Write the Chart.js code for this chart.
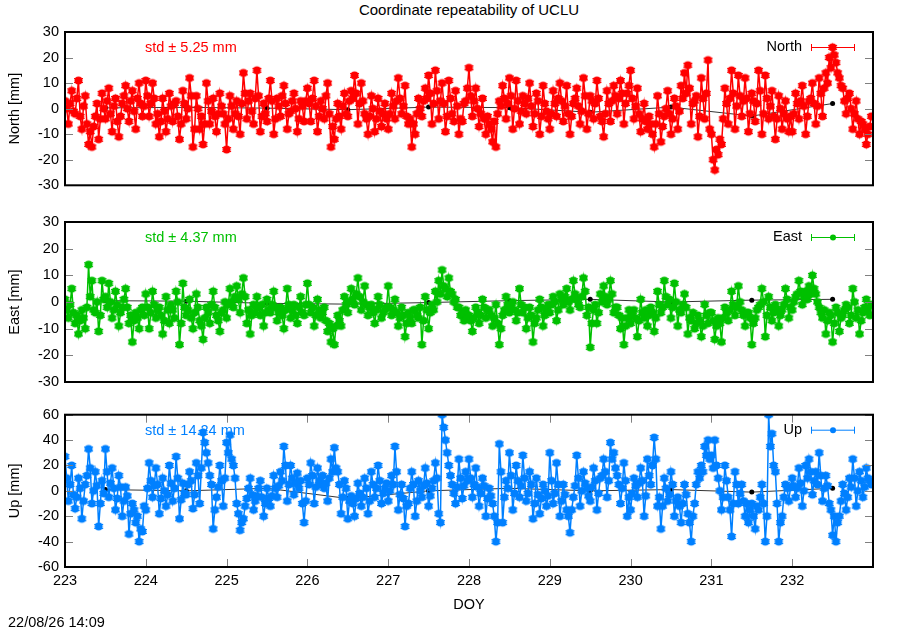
<!DOCTYPE html>
<html>
<head>
<meta charset="utf-8">
<title>Coordinate repeatability of UCLU</title>
<script src="https://cdn.jsdelivr.net/npm/chart.js@4.4.0/dist/chart.umd.min.js"></script>
<style>
  html, body { margin: 0; padding: 0; background: #fff; }
  #page { position: relative; width: 900px; height: 630px; font-family: "Liberation Sans", Arial, sans-serif; font-size: 14.5px; color: #000; }
  .panel { position: absolute; left: 0; width: 900px; }
  .txt { position: absolute; white-space: nowrap; line-height: 16px; }
</style>
</head>
<body>
<div id="page">
  <div class="txt" style="left:319px;width:300px;top:2px;text-align:center;font-size:15px">Coordinate repeatability of UCLU</div>
  <div class="panel" style="top:0;height:200px"><canvas id="northChart"></canvas></div>
  <div class="panel" style="top:200px;height:200px"><canvas id="eastChart"></canvas></div>
  <div class="panel" style="top:400px;height:230px"><canvas id="upChart"></canvas></div>
  <div class="txt" style="left:8px;top:614px">22/08/26 14:09</div>
</div>
<script>
// half-hourly solutions, DOY 223 .. 232 (48 per day, one row per day)
const firstDoy = 223;
const epochsPerDay = 48;

const northValues = [
  3,0,-6,2,7,-1,-2,4,11,-3,-8,1,5,-6,-14,-9,-15,-7,-3,2,-12,-4,6,0,-4,3,8,-2,-9,1,4,-5,-11,-3,2,5,9,0,-5,3,7,-1,-8,4,10,2,-3,1,
  11,5,-3,2,10,4,-6,-2,-11,-5,4,-1,-9,-4,6,1,-5,2,3,-3,-12,-6,7,2,-4,0,12,5,-15,-8,5,0,-8,-3,-14,-6,10,3,-6,-1,4,-3,-9,-2,6,1,-2,-6,
  -16,-4,5,1,-8,-2,3,-3,-10,2,14,6,-4,3,6,-1,-6,4,15,5,-9,-3,2,-2,-5,4,11,3,-10,-4,4,1,-3,5,9,2,-8,-2,-1,3,6,0,-9,-4,3,1,-5,3,
  8,2,-5,4,11,1,-9,-3,3,0,-4,5,10,-2,-15,-7,-12,-4,2,-3,-8,1,6,-2,-3,3,7,4,13,6,-6,2,10,3,-2,-4,-10,-3,5,0,-9,-4,4,-1,-7,-2,2,-4,
  -8,-2,6,1,-4,3,12,4,-2,1,9,-3,-6,-4,-15,-6,-10,-2,4,0,-3,3,8,4,13,6,-6,2,15,7,-4,3,10,2,-9,-3,11,4,-2,-5,7,1,-10,-4,-5,2,3,8,
  16,5,-3,3,8,0,-7,-2,4,-4,-10,-3,-6,-8,-13,-5,-15,-2,3,1,9,4,-4,2,12,5,-8,0,11,3,-6,-1,5,2,-2,4,10,1,-7,-2,6,3,-10,-3,9,2,-1,-4,
  -8,-2,7,2,-3,4,10,3,-5,1,9,-2,-10,-3,2,4,8,1,-6,-1,12,5,-8,-2,5,3,-4,2,11,4,-3,-5,-11,-2,7,2,-5,3,9,5,-2,4,11,6,-6,2,6,9,
  15,4,-4,1,8,-2,-9,-4,2,-5,-8,-3,-6,-10,-15,-6,5,-2,-13,-7,-3,0,7,-2,-10,-4,4,1,-8,-1,9,4,14,6,17,8,-6,2,3,5,-11,-3,12,4,-4,6,19,-8,
  -10,-20,-24,-16,-18,-12,-14,-4,8,2,-6,4,15,6,-8,1,13,5,-3,3,12,4,-9,-2,6,3,-5,2,15,7,-10,-2,13,4,-4,1,7,-3,-12,-4,5,0,-8,-2,3,-4,-9,-3,
  -9,-2,6,2,-4,3,9,1,-10,-3,3,4,10,2,-6,1,12,6,-3,8,14,10,20,16,24,21,18,14,12,9,8,3,-2,4,6,0,-8,-2,3,-4,-10,-5,-6,-8,-14,-10,-7,-3
];

const eastValues = [
  1,-3,-6,-1,5,-4,-8,-5,-12,-7,-3,-6,-10,-2,14,2,8,-3,-4,0,-11,-5,8,1,2,-2,7,0,-6,-3,4,-1,-9,-4,-2,1,5,-2,-8,-5,-15,-7,-4,-6,-10,-3,-2,-5,
  3,-2,-10,-4,4,-1,-6,-3,-2,-5,-12,-7,2,-3,-8,-1,-3,-6,4,0,-16,-8,7,-2,-5,-3,1,-6,-10,-4,3,-2,-7,-9,-14,-6,-2,-4,-8,-1,4,-2,-5,-7,-11,-4,-3,0,
  -6,-1,5,0,-2,2,6,1,-4,3,9,2,-8,-3,-12,-5,-1,-4,2,-2,-5,-1,-9,-4,1,-3,-4,-1,4,-2,-7,-4,-2,-5,-10,-3,5,-1,-6,-3,-1,-5,-8,-2,2,-4,-5,-1,
  7,-1,-4,-2,-9,-5,1,-3,-6,-4,-2,-7,-11,-8,-15,-10,-16,-9,-5,-7,-9,-3,2,-1,-4,0,5,1,-1,3,9,2,-3,0,6,-1,-5,-2,-1,-4,-8,-3,2,-1,-6,-4,-3,-2,
  6,-2,-5,-3,1,-4,-9,-6,-2,-5,-13,-8,-4,-6,-8,-3,-3,-5,-6,-2,-16,-7,2,-3,-10,-4,-1,-3,4,0,8,3,12,6,5,2,9,4,3,0,1,-2,-2,-5,-4,-7,-3,-6,
  -5,-7,-11,-6,-2,-4,-8,-5,1,-2,-6,-3,-3,-5,-9,-6,-1,-8,-16,-10,-5,-3,2,-1,-4,-2,0,-3,-7,-4,5,-1,-4,-2,-10,-6,-2,-5,-15,-8,-6,-3,1,-2,-9,-5,-3,-1,
  -4,-1,2,0,-7,-3,3,1,-1,2,5,0,-3,1,8,3,1,-1,-2,2,9,4,-5,-2,-17,-8,-3,-1,-8,-4,3,0,6,2,-1,1,8,3,-4,-2,-2,-5,-10,-6,-16,-9,-6,-3,
  -8,-5,-3,-6,-13,-7,1,-4,-6,-3,-9,-5,-2,-4,-11,-6,4,-1,-4,-2,8,2,-1,1,-6,-2,7,0,-9,-3,-4,-1,3,-2,-12,-6,-7,-4,-10,-8,-5,-7,-13,-9,-1,-5,-8,-4,
  -4,-7,-14,-9,-6,-8,-15,-6,-2,-4,-7,-3,4,-1,-5,-2,6,0,-3,-5,-9,-4,-4,-6,-16,-8,-6,-3,-2,-1,5,0,-13,-5,2,-2,-7,-4,-1,-3,-9,-5,-3,-1,5,1,-6,-2,
  -3,0,2,3,8,4,-1,2,4,1,6,3,10,5,3,0,-2,-4,-6,-3,-12,-7,-4,-5,-15,-8,-2,-4,-11,-6,-5,-3,-1,-2,-8,-5,5,0,-6,-3,-12,-7,-4,-2,1,-3,-5,-1
];

const upValues = [
  27,10,-8,5,20,-3,-14,-5,10,2,-22,-8,5,12,33,18,-10,0,15,4,-28,-10,8,-2,33,15,-5,6,18,2,-15,-6,12,3,-20,-8,3,-4,-34,-18,-10,-15,-25,-20,-40,-30,-32,-12,
  -15,2,22,8,-5,4,18,5,-18,-6,10,0,-12,-3,20,6,-8,2,27,10,-22,-7,6,-2,-3,5,15,8,-14,-3,22,12,-10,18,46,38,30,22,12,5,-30,-15,-5,3,20,8,-12,10,
  38,30,44,25,20,10,-10,-18,-31,-25,-22,-12,-6,2,10,-3,-15,-8,-4,2,8,-5,-20,-10,2,-6,-12,-4,12,2,-5,4,15,8,35,20,-8,5,20,10,-3,6,14,2,8,-10,-25,-8,
  10,5,22,12,-10,3,18,8,5,12,2,6,-8,10,25,15,34,18,15,5,-18,-5,8,2,-22,-8,-4,-10,-20,-6,6,-2,-12,-5,10,2,-18,-8,15,5,-5,2,20,8,-10,-2,2,6,
  -8,0,12,5,35,15,-15,-3,5,-6,-28,-12,-10,2,15,5,-20,-8,8,0,-5,4,18,6,-12,-4,2,8,22,10,-18,-25,60,50,40,30,20,12,5,-2,-10,3,25,10,-6,4,15,8,
  25,10,-5,5,18,3,-12,-2,10,4,-20,-6,2,-4,-10,-20,-40,-25,37,15,-25,-5,8,2,30,12,-15,-2,20,8,-5,4,28,10,-8,-2,15,5,-22,-10,10,-3,-18,-6,5,0,-12,-4,
  30,8,-10,-2,22,5,-20,-8,5,-3,-15,-20,-33,-15,-5,4,28,10,-12,0,15,6,2,-4,-8,3,18,8,-15,-2,10,12,25,15,-5,8,38,25,30,18,12,5,-10,2,22,8,-20,-5,
  -15,-2,10,4,-5,6,18,8,-20,-4,25,12,5,20,42,25,-12,-5,-30,-12,10,2,-8,-3,15,5,-20,-8,-5,-12,-25,-10,5,-3,-18,-25,-40,-20,-10,5,15,10,20,15,35,28,40,25,
  28,18,40,20,10,0,-15,-5,20,8,-5,-15,-36,-10,15,5,-10,-2,5,-8,-20,-10,-25,-15,-10,-20,-30,-12,-15,-5,5,-10,-40,-20,60,35,45,20,15,-10,-40,-25,-20,-5,5,2,-8,3,
  10,4,-5,2,18,6,-12,0,20,10,25,15,-3,8,15,5,30,12,-8,2,12,4,-10,-15,-35,-20,-40,-25,-20,-8,5,-2,-15,-5,10,3,25,10,-12,0,15,8,-5,3,18,10,8,5
];

// daily reference solutions (black)
const refDoy = [223.5, 224.5, 225.5, 226.5, 227.5, 228.5, 229.5, 230.5, 231.5, 232.5];
const northRef = [0.3, 0.5, 0.2, -0.4, 0.6, 0.4, -1.4, 0.6, -2.9, 2];
const eastRef = [0.5, 0.3, -0.5, -0.8, -0.2, 0.5, 1, 0, 0.7, 1];
const upRef = [1, 0, 2, -6, 0, 2, 0, 1, -1, 2];

const FONT = '"Liberation Sans", Arial, sans-serif';
const FONT_SIZE = 14.5;
Chart.defaults.font.family = FONT;
Chart.defaults.font.size = FONT_SIZE;
Chart.defaults.color = '#000';

function toPoints(values) {
  return values.map((v, i) => ({ x: firstDoy + i / epochsPerDay, y: v }));
}

// filled circle with small error-bar caps, like gnuplot's yerrorlines marker
function markerImage(color) {
  const c = document.createElement('canvas');
  c.width = 11;
  c.height = 11;
  const g = c.getContext('2d');
  g.fillStyle = color;
  g.strokeStyle = color;
  g.beginPath();
  g.arc(5.5, 5.5, 4, 0, Math.PI * 2);
  g.fill();
  g.lineWidth = 1;
  g.beginPath();
  g.moveTo(1, 3.5); g.lineTo(10, 3.5);
  g.moveTo(1, 7.5); g.lineTo(10, 7.5);
  g.stroke();
  return c;
}

// gnuplot-like frame, inward ticks, std label and key
const panelDecor = {
  id: 'panelDecor',
  beforeDatasetsDraw(chart, args, opts) {
    const { ctx, chartArea: a } = chart;
    ctx.save();
    ctx.font = FONT_SIZE + 'px ' + FONT;
    ctx.fillStyle = opts.color;
    ctx.textBaseline = 'middle';
    ctx.fillText(opts.std, a.left + 80, a.top + 16);
    ctx.restore();
  },
  afterDraw(chart, args, opts) {
    const { ctx, chartArea: a, scales: { x, y } } = chart;
    ctx.save();
    ctx.strokeStyle = '#808080';
    ctx.lineWidth = 1;
    ctx.beginPath();
    y.ticks.forEach(t => {
      const py = Math.round(y.getPixelForValue(t.value)) + 0.5;
      ctx.moveTo(a.left, py); ctx.lineTo(a.left + 8, py);
      ctx.moveTo(a.right - 8, py); ctx.lineTo(a.right, py);
    });
    if (opts.xTicks) {
      x.ticks.forEach(t => {
        const px = Math.round(x.getPixelForValue(t.value)) + 0.5;
        ctx.moveTo(px, a.bottom); ctx.lineTo(px, a.bottom - 8);
        ctx.moveTo(px, a.top); ctx.lineTo(px, a.top + 8);
      });
    }
    ctx.stroke();

    ctx.strokeStyle = '#000';
    ctx.lineWidth = 2;
    ctx.strokeRect(a.left, a.top, a.right - a.left, a.bottom - a.top);

    // key
    const ky = a.top + 15;
    ctx.font = FONT_SIZE + 'px ' + FONT;
    ctx.fillStyle = '#000';
    ctx.textAlign = 'right';
    ctx.textBaseline = 'middle';
    ctx.fillText(opts.label, 802, ky);
    ctx.strokeStyle = opts.color;
    ctx.lineWidth = 1;
    ctx.beginPath();
    ctx.moveTo(811, ky + 0.5); ctx.lineTo(855, ky + 0.5);
    ctx.moveTo(811.5, ky - 3); ctx.lineTo(811.5, ky + 4);
    ctx.moveTo(854.5, ky - 3); ctx.lineTo(854.5, ky + 4);
    ctx.stroke();
    ctx.fillStyle = opts.color;
    ctx.beginPath();
    ctx.arc(833, ky + 0.5, 3, 0, Math.PI * 2);
    ctx.fill();
    ctx.restore();
  }
};

function makePanel(id, p) {
  return new Chart(document.getElementById(id), {
    type: 'line',
    data: {
      datasets: [
        {
          data: toPoints(p.values),
          borderColor: p.color,
          backgroundColor: p.color,
          borderWidth: 1.5,
          pointStyle: markerImage(p.color),
          pointRadius: 4,
          pointHoverRadius: 4,
          order: 0
        },
        {
          data: refDoy.map((d, i) => ({ x: d, y: p.ref[i] })),
          borderColor: '#000',
          backgroundColor: '#000',
          borderWidth: 0.8,
          pointRadius: 2.5,
          pointBorderWidth: 0,
          order: 1
        }
      ]
    },
    options: {
      responsive: true,
      maintainAspectRatio: false,
      animation: false,
      events: [],
      layout: { padding: { left: 0, right: 27, top: p.padTop, bottom: p.padBottom } },
      plugins: {
        legend: { display: false },
        tooltip: { enabled: false },
        panelDecor: { color: p.color, std: p.std, label: p.label, xTicks: p.showX }
      },
      scales: {
        x: {
          type: 'linear',
          min: 223,
          max: 233,
          display: p.showX,
          grid: { display: false, drawTicks: false },
          border: { display: false },
          ticks: {
            stepSize: 1,
            autoSkip: false,
            maxRotation: 0,
            padding: 5,
            color: '#000',
            callback: v => (v === 233 ? '' : String(v))
          },
          title: { display: true, text: 'DOY', color: '#000', padding: { top: 0, bottom: 16 } },
          afterFit: s => { if (p.showX) s.height = 63; }
        },
        y: {
          min: p.yMin,
          max: p.yMax,
          grid: { display: false, drawTicks: false },
          border: { display: false },
          ticks: { stepSize: p.yStep, autoSkip: false, padding: 6, color: '#000' },
          title: { display: true, text: p.yTitle, color: '#000', padding: { top: 6, bottom: 0 } },
          afterFit: s => { s.width = 65; }
        }
      }
    },
    plugins: [panelDecor]
  });
}

makePanel('northChart', {
  values: northValues, ref: northRef, color: '#ff0000', label: 'North', std: 'std \u00b1 5.25 mm',
  yMin: -30, yMax: 30, yStep: 10, yTitle: 'North [mm]', showX: false, padTop: 32, padBottom: 8
});
makePanel('eastChart', {
  values: eastValues, ref: eastRef, color: '#00c000', label: 'East', std: 'std \u00b1 4.37 mm',
  yMin: -30, yMax: 30, yStep: 10, yTitle: 'East [mm]', showX: false, padTop: 22, padBottom: 18
});
makePanel('upChart', {
  values: upValues, ref: upRef, color: '#0080ff', label: 'Up', std: 'std \u00b1 14.24 mm',
  yMin: -60, yMax: 60, yStep: 20, yTitle: 'Up [mm]', showX: true, padTop: 12, padBottom: 0
});
</script>
</body>
</html>
